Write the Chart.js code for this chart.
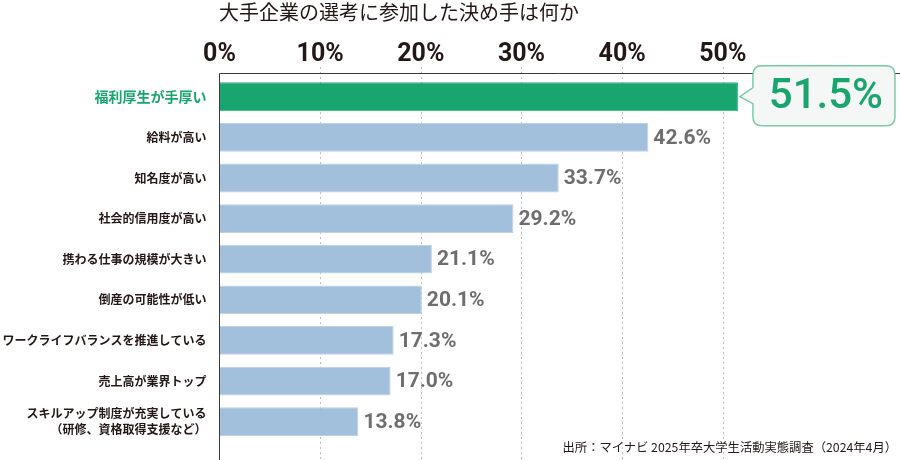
<!DOCTYPE html>
<html lang="ja">
<head>
<meta charset="utf-8">
<script src="https://cdn.jsdelivr.net/npm/chart.js@4.4.1/dist/chart.umd.min.js"></script>
<style>
  html, body { margin: 0; padding: 0; background: #fff; }
  #wrap { position: relative; width: 900px; height: 460px; }
  #title {
    position: absolute; left: 219px; top: 0px;
    font: 20px "Noto Sans CJK JP", sans-serif; color: #231815;
    line-height: 24px; white-space: nowrap;
  }
  #source {
    position: absolute; right: 3px; top: 439px;
    font: 12.3px "Noto Sans CJK JP", sans-serif; color: #231815;
    line-height: 16px; white-space: nowrap;
  }
</style>
</head>
<body>
<div id="wrap">
  <canvas id="chart" width="900" height="460"></canvas>
  <div id="title">大手企業の選考に参加した決め手は何か</div>
  <div id="source">出所：マイナビ 2025年卒大学生活動実態調査（2024年4月）</div>
</div>
<script>
// data
const categories = [
  '福利厚生が手厚い',
  '給料が高い',
  '知名度が高い',
  '社会的信用度が高い',
  '携わる仕事の規模が大きい',
  '倒産の可能性が低い',
  'ワークライフバランスを推進している',
  '売上高が業界トップ',
  ['スキルアップ制度が充実している', '（研修、資格取得支援など）']
];
const shares = [51.5, 42.6, 33.7, 29.2, 21.1, 20.1, 17.3, 17.0, 13.8];
const tickMax = 50;

const green = '#19a56e';
const blue = '#a2bfdb';
const axisTop = 73;

// value labels and the callout for the top item
const valueLabels = {
  id: 'valueLabels',
  afterDatasetsDraw(chart) {
    const ctx = chart.ctx;
    const meta = chart.getDatasetMeta(0);
    ctx.save();
    meta.data.forEach((bar, i) => {
      const txt = shares[i].toFixed(1) + '%';
      if (i === 0) {
        const tipX = bar.x + 2, tipY = bar.y;
        const bx = tipX + 13, by = tipY - 31, bw = 142, bh = 60, r = 9;
        ctx.beginPath();
        ctx.moveTo(bx + r, by);
        ctx.lineTo(bx + bw - r, by);
        ctx.quadraticCurveTo(bx + bw, by, bx + bw, by + r);
        ctx.lineTo(bx + bw, by + bh - r);
        ctx.quadraticCurveTo(bx + bw, by + bh, bx + bw - r, by + bh);
        ctx.lineTo(bx + r, by + bh);
        ctx.quadraticCurveTo(bx, by + bh, bx, by + bh - r);
        ctx.lineTo(bx, tipY + 7);
        ctx.lineTo(tipX, tipY);
        ctx.lineTo(bx, tipY - 9);
        ctx.lineTo(bx, by + r);
        ctx.quadraticCurveTo(bx, by, bx + r, by);
        ctx.closePath();
        ctx.fillStyle = '#f4f7f5';
        ctx.fill();
        ctx.lineWidth = 1.5;
        ctx.strokeStyle = '#7ccaa6';
        ctx.stroke();
        ctx.fillStyle = green;
        ctx.font = '500 42px Roboto';
        ctx.textAlign = 'center';
        ctx.textBaseline = 'middle';
        ctx.fillText(txt, bx + bw / 2 + 2, tipY + 1);
      } else {
        ctx.fillStyle = '#6e6e6e';
        ctx.font = 'bold 21px Roboto';
        ctx.textAlign = 'left';
        ctx.textBaseline = 'middle';
        ctx.fillText(txt, bar.x + 5, bar.y + 1);
      }
    });
    ctx.restore();
  }
};

// top axis line and grid carried down to the bottom edge
const extendLines = {
  id: 'extendLines',
  beforeDatasetsDraw(chart) {
    const ctx = chart.ctx;
    const x = chart.scales.x;
    const area = chart.chartArea;
    ctx.save();
    ctx.strokeStyle = '#bdbdbd';
    ctx.lineWidth = 1;
    ctx.setLineDash([2, 3]);
    x.ticks.forEach(t => {
      if (t.value > 0 && t.value <= tickMax) {
        const px = Math.round(x.getPixelForValue(t.value)) + 0.5;
        ctx.beginPath();
        ctx.moveTo(px, axisTop - 6);
        ctx.lineTo(px, chart.height);
        ctx.stroke();
      }
    });
    ctx.setLineDash([]);
    ctx.strokeStyle = '#3a3a3a';
    const px0 = Math.round(x.getPixelForValue(0)) - 0.5;
    ctx.beginPath();
    ctx.moveTo(px0, chart.height);
    ctx.lineTo(px0, axisTop + 0.5);
    ctx.lineTo(area.right, axisTop + 0.5);
    ctx.stroke();
    ctx.restore();
  }
};

const ctx = document.getElementById('chart').getContext('2d');
new Chart(ctx, {
  type: 'bar',
  data: {
    labels: categories,
    datasets: [{
      data: shares,
      backgroundColor: shares.map((v, i) => i === 0 ? green : blue),
      borderColor: shares.map((v, i) => i === 0 ? '#2db07c' : '#bcd2e8'),
      borderWidth: 1,
      borderSkipped: 'left',
      barPercentage: 0.71,
      categoryPercentage: 1
    }]
  },
  options: {
    indexAxis: 'y',
    responsive: false,
    animation: false,
    layout: { padding: { top: 0, left: 0, right: 0, bottom: 18 } },
    plugins: {
      legend: { display: false },
      tooltip: { enabled: false }
    },
    scales: {
      x: {
        position: 'top',
        min: 0,
        max: 67.6,
        afterFit(scale) { scale.height = 76.4; },
        ticks: {
          stepSize: 10,
          padding: 0,
          color: '#231815',
          font: { family: 'Roboto', weight: 'bold', size: 25, lineHeight: 1.2 },
          callback: v => v <= tickMax ? v + '%' : ''
        },
        grid: {
          drawTicks: true,
          tickLength: 7,
          color: 'rgba(0,0,0,0)'
        },
        border: { display: false }
      },
      y: {
        afterFit(scale) { scale.width = 219.5; },
        ticks: {
          padding: 5,
          color: c => c.index === 0 ? green : '#231815',
          font: c => ({
            family: '"Noto Sans CJK JP"', weight: 'bold',
            size: c.index === 0 ? 14 : 12, lineHeight: 1.35
          })
        },
        grid: { display: false },
        border: { display: false }
      }
    }
  },
  plugins: [extendLines, valueLabels]
});
</script>
</body>
</html>
